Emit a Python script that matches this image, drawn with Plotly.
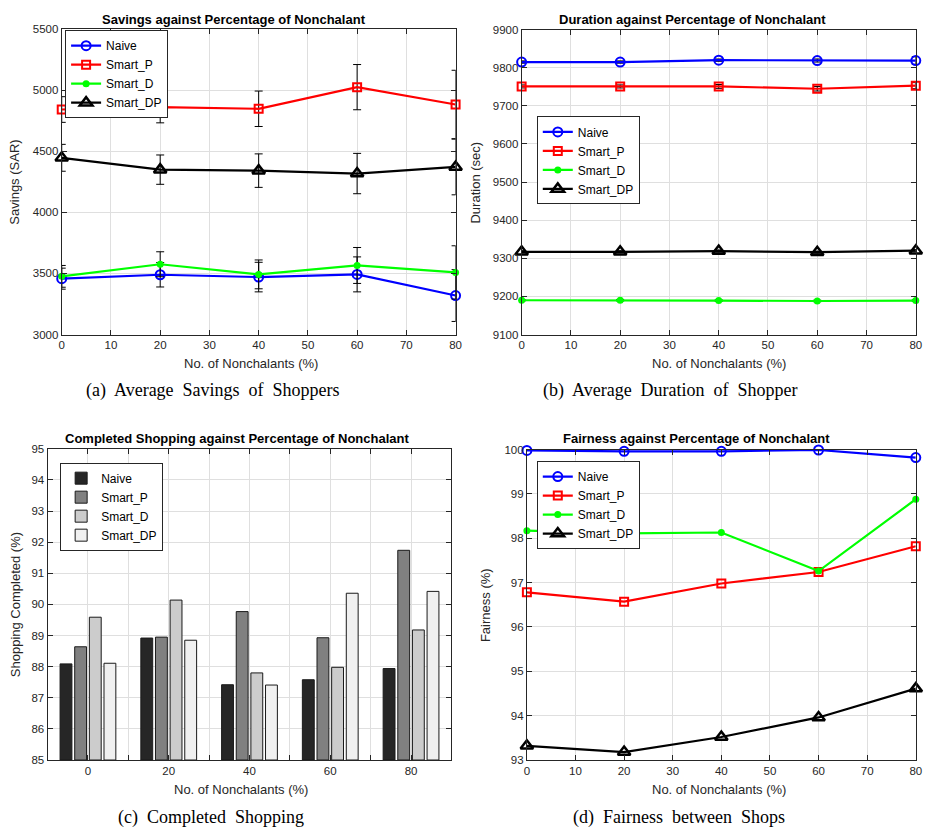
import plotly.graph_objects as go

W, H = 931, 837

# ---------------- data ----------------
x_pct = [0, 20, 40, 60, 80]
series = ["Naive", "Smart_P", "Smart_D", "Smart_DP"]

sav_naive = [3457, 3489, 3470, 3492, 3319]
sav_p = [4841, 4860, 4847, 5024, 4882]
sav_d = [3476, 3575, 3492, 3565, 3508]
sav_dp = [4446, 4349, 4341, 4317, 4371]
sav_naive_err = [86, 100, 121, 143, 212]
sav_p_err = [105, 128, 145, 185, 280]
sav_d_err = [89, 102, 118, 147, 218]
sav_dp_err = [110, 120, 137, 165, 228]

dur_naive = [9815, 9815, 9820, 9819, 9819]
dur_p = [9751, 9751, 9751, 9745, 9753]
dur_d = [9190, 9190, 9189, 9188, 9189]
dur_dp = [9317, 9317, 9319, 9316, 9320]
dur_naive_err = [3, 3, 3, 4, 10]
dur_p_err = [4, 4, 5, 6, 8]
dur_d_err = [2, 2, 2, 2, 2]
dur_dp_err = [3, 3, 3, 3, 3]

comp_naive = [88.09, 88.92, 87.42, 87.58, 87.94]
comp_p = [88.64, 88.95, 89.77, 88.93, 91.74]
comp_d = [89.59, 90.14, 87.80, 87.98, 89.18]
comp_dp = [88.11, 88.85, 87.41, 90.36, 90.42]

fair_naive = [99.98, 99.96, 99.96, 99.99, 99.82]
fair_p = [96.78, 96.57, 96.98, 97.24, 97.82]
fair_d = [98.17, 98.11, 98.13, 97.26, 98.88]
fair_dp = [93.32, 93.18, 93.52, 93.96, 94.61]

titles = ["Savings against Percentage of Nonchalant",
          "Duration against Percentage of Nonchalant",
          "Completed Shopping against Percentage of Nonchalant",
          "Fairness against Percentage of Nonchalant"]
captions = ["(a) Average Savings of Shoppers", "(b) Average Duration of Shopper",
            "(c) Completed Shopping", "(d) Fairness between Shops"]
ytitles = ["Savings (SAR)", "Duration (sec)", "Shopping Completed (%)", "Fairness (%)"]
xtitle = "No. of Nonchalants (%)"

# ---------------- styles ----------------
colors = {"Naive": "#0000ff", "Smart_P": "#ff0000", "Smart_D": "#00ff00", "Smart_DP": "#000000"}
markers = {"Naive": dict(symbol="circle-open", size=9, line=dict(width=2)),
           "Smart_P": dict(symbol="square-open", size=8, line=dict(width=2)),
           "Smart_D": dict(symbol="circle", size=7),
           "Smart_DP": dict(symbol="triangle-up-open", size=11, line=dict(width=2.5))}
bar_colors = {"Naive": "#262626", "Smart_P": "#808080", "Smart_D": "#cccccc", "Smart_DP": "#f0f0f0"}

FONT = "Liberation Sans, Arial, sans-serif"
SERIF = "Liberation Serif, Times New Roman, serif"
AX = "#262626"
GRID = "#dfdfdf"

def dx(a, b):
    return [a / W, b / W]

def dy(top, bottom):
    return [1 - bottom / H, 1 - top / H]

fig = go.Figure()

def add_lines(ax_idx, ys, errs, legend):
    xa = "x" if ax_idx == 1 else f"x{ax_idx}"
    ya = "y" if ax_idx == 1 else f"y{ax_idx}"
    for name, yv, ev in zip(series, ys, errs):
        c = colors[name]
        mk = dict(markers[name])
        mk["color"] = c
        if "line" in mk:
            mk["line"] = dict(mk["line"], color=c)
        kw = {}
        if ev is not None:
            kw["error_y"] = dict(type="data", array=ev, visible=True, color="#000000",
                                 thickness=1, width=4)
        fig.add_trace(go.Scatter(x=x_pct, y=yv, name=name, mode="lines+markers",
                                 line=dict(color=c, width=2.2), marker=mk,
                                 xaxis=xa, yaxis=ya, legend=legend, cliponaxis=False, **kw))

add_lines(1, [sav_naive, sav_p, sav_d, sav_dp],
          [sav_naive_err, sav_p_err, sav_d_err, sav_dp_err], "legend")
add_lines(2, [dur_naive, dur_p, dur_d, dur_dp],
          [dur_naive_err, dur_p_err, dur_d_err, dur_dp_err], "legend2")
for name, yv in zip(series, [comp_naive, comp_p, comp_d, comp_dp]):
    fig.add_trace(go.Bar(x=x_pct, y=[v - 85 for v in yv], base=85, name=name,
                         marker=dict(color=bar_colors[name], line=dict(color="#1a1a1a", width=1)),
                         xaxis="x3", yaxis="y3", legend="legend3",
                         hovertext=[str(v) for v in yv]))
add_lines(4, [fair_naive, fair_p, fair_d, fair_dp], [None] * 4, "legend4")

# ---------------- axes ----------------
def axis(domain, **kw):
    d = dict(domain=domain, showline=True, linecolor=AX, linewidth=1, mirror="ticks",
             ticks="inside", ticklen=5, tickcolor=AX, showgrid=True, gridcolor=GRID,
             gridwidth=1, zeroline=False, tickformat="d",
             tickfont=dict(family=FONT, size=11.5, color=AX))
    d.update(kw)
    return d

boxes = [(59.3, 457, 23.3, 333.3), (523.7, 921.7, 24, 333.3),
         (45, 452.8, 449.3, 765), (529, 921.7, 450, 765)]

fig.update_layout(
    xaxis=axis(dx(*boxes[0][:2]), range=[0, 80], dtick=10, anchor="y"),
    yaxis=axis(dy(*boxes[0][2:]), range=[3000, 5500], dtick=500, anchor="x"),
    xaxis2=axis(dx(*boxes[1][:2]), range=[0, 80], dtick=10, anchor="y2"),
    yaxis2=axis(dy(*boxes[1][2:]), range=[9100, 9900], dtick=100, anchor="x2"),
    xaxis3=axis(dx(*boxes[2][:2]), range=[-10, 90], anchor="y3",
                tickvals=[0, 10, 20, 30, 40, 50, 60, 70, 80, 90],
                ticktext=["0", "", "20", "", "40", "", "60", "", "80", ""]),
    yaxis3=axis(dy(*boxes[2][2:]), range=[85, 95], dtick=1, anchor="x3"),
    xaxis4=axis(dx(*boxes[3][:2]), range=[0, 80], dtick=10, anchor="y4"),
    yaxis4=axis(dy(*boxes[3][2:]), range=[93, 100], dtick=1, anchor="x4"),
    bargap=0.275, bargroupgap=0.19, barmode="group",
)

def legend(x, y):
    return dict(x=x / W, y=1 - y / H, xanchor="left", yanchor="top",
                bgcolor="#ffffff", bordercolor="#262626", borderwidth=1,
                font=dict(family=FONT, size=12, color="#000000"),
                tracegroupgap=0, itemwidth=30)

fig.update_layout(
    legend=legend(62.7, 24.5),
    legend2=legend(539, 112),
    legend3=legend(57.7, 463.3),
    legend4=legend(539, 461.7),
)

ann = []
title_pos = [(233, 13.3), (696.7, 13.3), (236.7, 438.3), (700, 438.3)]
for t, (x, y) in zip(titles, title_pos):
    ann.append(dict(text=f"<b>{t}</b>", x=x / W, y=1 - y / H, xref="paper", yref="paper",
                    showarrow=False, font=dict(family=FONT, size=13, color="#000000"),
                    xanchor="center", yanchor="middle"))
cap_pos = [(211.7, 390), (674, 390), (210, 823), (683, 823)]
for t, (x, y) in zip(captions, cap_pos):
    ann.append(dict(text=t.replace(" ", "&nbsp; "), x=x / W, y=1 - y / H,
                    xref="paper", yref="paper",
                    showarrow=False, font=dict(family=SERIF, size=18, color="#000000"),
                    xanchor="center", yanchor="middle"))
xt_pos = [(250.5, 362.7), (722.7, 362.7), (240.7, 795), (722.7, 795)]
for (x, y) in xt_pos:
    ann.append(dict(text=xtitle, x=x / W, y=1 - y / H, xref="paper", yref="paper",
                    showarrow=False, font=dict(family=FONT, size=13, color=AX),
                    xanchor="center", yanchor="middle"))
yt_pos = [(12, 178.3), (477, 178.7), (12, 607), (488, 607.5)]
for t, (x, y) in zip(ytitles, yt_pos):
    ann.append(dict(text=t, x=x / W, y=1 - y / H, xref="paper", yref="paper",
                    showarrow=False, textangle=-90, font=dict(family=FONT, size=13, color=AX),
                    xanchor="center", yanchor="middle"))

fig.update_layout(annotations=ann, width=W, height=H, margin=dict(l=0, r=0, t=0, b=0),
                  paper_bgcolor="#ffffff", plot_bgcolor="#ffffff", showlegend=True)

fig.write_html("out.html")
